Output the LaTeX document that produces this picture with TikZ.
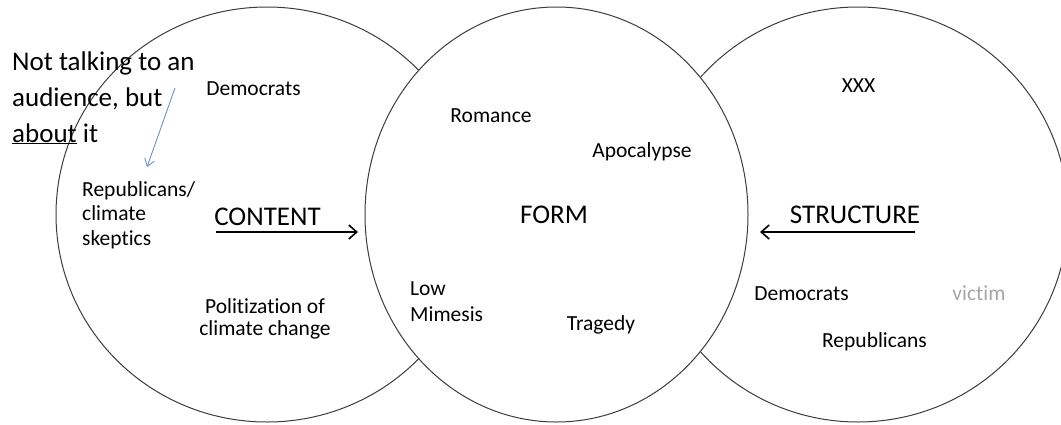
\documentclass[tikz,border=0pt]{standalone}
\usepackage{fontspec}
\setmainfont{Carlito}[Ligatures=NoCommon]
\usetikzlibrary{arrows.meta}
\definecolor{notecol}{RGB}{110,145,195}
\definecolor{ringcol}{RGB}{60,60,60}
\definecolor{mutedcol}{RGB}{166,166,166}
\begin{document}
\begin{tikzpicture}[x=1pt,y=-1pt,
  ring/.style={draw=ringcol, line width=1pt},
  big/.style={font=\fontsize{27}{36}\selectfont, inner sep=0pt},
  small/.style={font=\fontsize{21.5}{25}\selectfont, inner sep=0pt},
  bigarrow/.style={line width=1.8pt, -{Straight Barb[length=8pt,width=14pt,line width=1.6pt]}},
  notearrow/.style={draw=notecol, line width=0.9pt, -{Straight Barb[length=7pt,width=10pt]}}
]
\useasboundingbox (0,0) rectangle (1061,424);
\begin{scope}
\clip (0,0) rectangle (1061,424);
\draw[ring] (267,214.5) ellipse [x radius=211pt, y radius=207.5pt];
\draw[ring] (858,214.5) ellipse [x radius=210pt, y radius=207.5pt];
\draw[ring, fill=white] (556.5,214.5) ellipse [x radius=191.5pt, y radius=207.5pt];
\end{scope}

% left circle (multi-line nodes: base = baseline of last line)
\node[big, anchor=base west, align=left] (note) at (12,142) {Not talking to an\\audience, but\\\underline{about} it};
\node[small, anchor=base] (dem1) at (253.5,95) {Democrats};
\node[small, anchor=base west, align=left, font=\fontsize{21.5}{24.5}\selectfont] (rep1) at (82,245) {Republicans/\\climate\\skeptics};
\node[big, anchor=base] (content) at (267.5,225) {CONTENT};
\node[small, anchor=base, align=center, font=\fontsize{21.5}{22.5}\selectfont] (polit) at (265,335.5) {Politization of\\climate change};

% middle circle
\node[small, anchor=base] (rom) at (491,122) {Romance};
\node[small, anchor=base] (apo) at (642,157) {Apocalypse};
\node[big, anchor=base] (form) at (554,223) {FORM};
\node[small, anchor=base west, align=left, font=\fontsize{21.5}{26.5}\selectfont] (low) at (410,321.5) {Low\\Mimesis};
\node[small, anchor=base] (tra) at (601,330) {Tragedy};

% right circle
\node[small, anchor=base] (xxx) at (858.5,92) {XXX};
\node[big, anchor=base] (structure) at (855,223) {STRUCTURE};
\node[small, anchor=base] (dem2) at (801.5,300) {Democrats};
\node[small, anchor=base, text=mutedcol] (vic) at (979,300) {victim};
\node[small, anchor=base] (rep2) at (874.5,347) {Republicans};

% connectors
\coordinate (cstart) at (216,232);
\coordinate (cend) at (358,232);
\coordinate (sstart) at (915,232);
\coordinate (send) at (760,232);
\coordinate (nstart) at (175,88);
\coordinate (nend) at (147,167);
\draw[bigarrow] (cstart) -- (cend);
\draw[bigarrow] (sstart) -- (send);
\draw[notearrow] (nstart) -- (nend);
\end{tikzpicture}
\end{document}
